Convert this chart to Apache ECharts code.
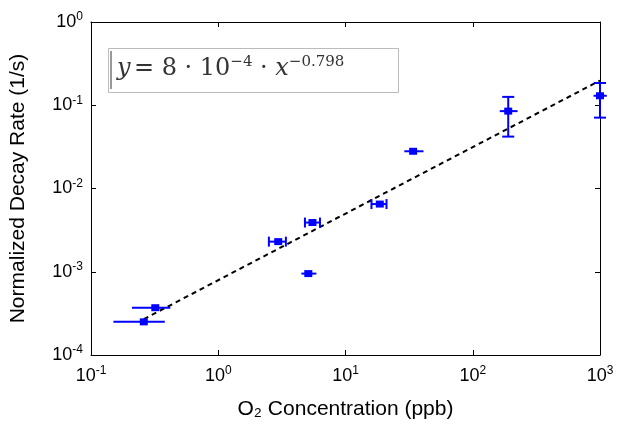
<!DOCTYPE html>
<html>
<head>
<meta charset="utf-8">
<script src="https://cdn.jsdelivr.net/npm/echarts@6/dist/echarts.min.js"></script>
<style>*{margin:0;padding:0;} body{background:#fff;}</style>
</head>
<body>
<div id="main" style="width:620px;height:435px;"></div>
<script>
var xVals  = [0.26, 0.32, 2.96, 5.1, 5.5, 18.6, 34, 190, 1000];
var yVals  = [2.5e-4, 3.7e-4, 2.3e-3, 9.5e-4, 3.9e-3, 6.5e-3, 0.028, 0.085, 0.13];
var xLow   = [0.15, 0.21, 2.5, 4.5, 4.8, 16, 29, 163, 890];
var xHigh  = [0.38, 0.42, 3.4, 5.9, 6.3, 21, 41, 225, 1130];
var yLow   = [2.5e-4, 3.7e-4, 2.3e-3, 9.5e-4, 3.9e-3, 6.5e-3, 0.028, 0.042, 0.071];
var yHigh  = [2.5e-4, 3.7e-4, 2.3e-3, 9.5e-4, 3.9e-3, 6.5e-3, 0.028, 0.126, 0.185];
var xCaps  = [0, 0, 1, 0, 1, 1, 0, 0, 0];
var fitX = [0.26, 1000];
var fitY = [2.7e-4, 0.198];

var blue = '#0000ff';
var errData = xVals.map(function (x, i) {
    return [x, yVals[i], xLow[i], xHigh[i], yLow[i], yHigh[i], xCaps[i]];
});

function supLabel(v) {
    var e = Math.round(Math.log10(v));
    return '{b|10}{s|' + e + '}';
}
var labRich = {
    b: {fontSize: 18, fontFamily: 'Liberation Sans', color: '#000'},
    s: {fontSize: 12, fontFamily: 'Liberation Sans', color: '#000', verticalAlign: 'top', padding: [0, 0, 10, 0]}
};

var myChart = echarts.init(document.getElementById('main'));
myChart.setOption({
    animation: false,
    grid: {left: 90, right: 20, top: 22, bottom: 80},
    xAxis: [{
        type: 'log', logBase: 10, min: 0.1, max: 1000,
        name: 'O\u2082 Concentration (ppb)', nameLocation: 'middle', nameGap: 44,
        nameTextStyle: {fontSize: 21, fontFamily: 'Liberation Sans', color: '#000'},
        axisLine: {lineStyle: {color: '#000'}},
        axisTick: {inside: true, length: 5, lineStyle: {color: '#000'}},
        splitLine: {show: false},
        axisLabel: {formatter: supLabel, rich: labRich, margin: 10}
    }, {
        type: 'log', logBase: 10, min: 0.1, max: 1000, position: 'top',
        axisLine: {show: true, lineStyle: {color: '#000'}},
        axisTick: {inside: true, length: 5, lineStyle: {color: '#000'}},
        axisLabel: {show: false}, splitLine: {show: false}
    }],
    yAxis: [{
        type: 'log', logBase: 10, min: 1e-4, max: 1,
        name: 'Normalized Decay Rate (1/s)', nameLocation: 'middle', nameGap: 62,
        nameTextStyle: {fontSize: 21, fontFamily: 'Liberation Sans', color: '#000'},
        axisLine: {show: true, lineStyle: {color: '#000'}},
        axisTick: {inside: true, length: 5, lineStyle: {color: '#000'}},
        splitLine: {show: false},
        axisLabel: {formatter: supLabel, rich: labRich, margin: 8}
    }, {
        type: 'log', logBase: 10, min: 1e-4, max: 1, position: 'right',
        axisLine: {show: true, lineStyle: {color: '#000'}},
        axisTick: {inside: true, length: 5, lineStyle: {color: '#000'}},
        axisLabel: {show: false}, splitLine: {show: false}
    }],
    graphic: [{
        type: 'rect', left: 108, top: 48, shape: {width: 290, height: 44},
        style: {fill: '#fff', stroke: '#bbb', lineWidth: 1}, z: 10
    }, {
        type: 'line', shape: {x1: 111, y1: 51, x2: 111, y2: 89},
        style: {stroke: '#333', lineWidth: 1}, z: 11
    }, {
        type: 'text', left: 117, top: 55, z: 11,
        style: {
            text: '{i|y} {n|= 8 \u00b7 10}{s|\u22124}{n| \u00b7 }{i|x}{s|\u22120.798}',
            rich: {
                i: {fontSize: 24, fontStyle: 'italic', fontFamily: 'DejaVu Serif', fill: '#333'},
                n: {fontSize: 24, fontFamily: 'DejaVu Serif', fill: '#333'},
                s: {fontSize: 15, fontFamily: 'DejaVu Serif', fill: '#333', verticalAlign: 'top', padding: [0, 0, 12, 0]}
            }
        }
    }],
    series: [{
        type: 'line', data: fitX.map(function (x, i) { return [x, fitY[i]]; }),
        symbol: 'none', lineStyle: {color: '#000', type: [5, 4], width: 2}, z: 3
    }, {
        type: 'custom', data: errData, z: 4,
        renderItem: function (params, api) {
            var c = api.coord([api.value(0), api.value(1)]);
            var l = api.coord([api.value(2), api.value(1)]);
            var r = api.coord([api.value(3), api.value(1)]);
            var lo = api.coord([api.value(0), api.value(4)]);
            var hi = api.coord([api.value(0), api.value(5)]);
            var st = {stroke: blue, lineWidth: 2};
            var ch = [
                {type: 'line', shape: {x1: l[0], y1: c[1], x2: r[0], y2: c[1]}, style: st},
                {type: 'rect', shape: {x: c[0] - 4, y: c[1] - 3.5, width: 8, height: 7}, style: {fill: blue}}
            ];
            if (api.value(6)) {
                ch.push({type: 'line', shape: {x1: l[0], y1: c[1] - 5, x2: l[0], y2: c[1] + 5}, style: st});
                ch.push({type: 'line', shape: {x1: r[0], y1: c[1] - 5, x2: r[0], y2: c[1] + 5}, style: st});
            }
            if (hi[1] < c[1] - 1) {
                ch.push({type: 'line', shape: {x1: c[0], y1: hi[1], x2: c[0], y2: lo[1]}, style: st});
                ch.push({type: 'line', shape: {x1: c[0] - 6, y1: hi[1], x2: c[0] + 6, y2: hi[1]}, style: st});
                ch.push({type: 'line', shape: {x1: c[0] - 6, y1: lo[1], x2: c[0] + 6, y2: lo[1]}, style: st});
            }
            return {type: 'group', children: ch};
        }
    }]
});
</script>
</body>
</html>
